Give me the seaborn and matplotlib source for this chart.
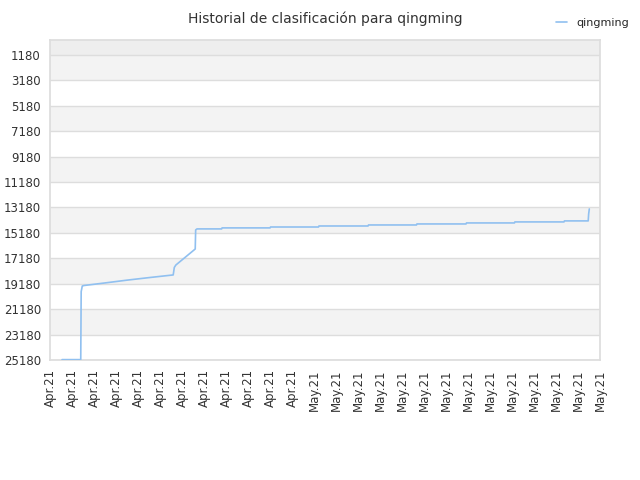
import matplotlib
matplotlib.use("Agg")
import matplotlib.pyplot as plt
import seaborn as sns
import pandas as pd

# x positions in tick units (0 = first tick), values = rank
xs = [0.55, 1.40, 1.42, 1.47, 1.55, 2.5, 3.5, 4.5, 5.6, 5.65, 5.72, 6.6, 6.62, 6.68,
      7.8, 7.82, 10.0, 10.02, 12.2, 12.22, 14.45, 14.47, 16.65, 16.67, 18.9, 18.92,
      21.1, 21.12, 23.35, 23.37, 24.45, 24.47, 24.5]
ys = [25150, 25150, 19800, 19360, 19320, 19120, 18900, 18700, 18490, 17900, 17710, 16450, 14950, 14870,
      14870, 14790, 14790, 14720, 14720, 14640, 14640, 14560, 14560, 14480, 14480, 14400,
      14400, 14320, 14320, 14240, 14240, 13700, 13300]
tick_labels = ["Apr.21"] * 12 + ["May.21"] * 14
yticks = [1180 + 2000 * i for i in range(13)]

sns.set_theme(style="white")
plt.rcParams['font.family'] = ['DejaVu Sans']
fig, ax = plt.subplots(figsize=(6.4, 4.8), dpi=100)
fig.subplots_adjust(left=0.078, right=0.938, top=0.917, bottom=0.25)

# bands
ax.axhspan(0, 1180, color="#eeeeee", zorder=0, lw=0)
for i, y0 in enumerate(yticks[:-1]):
    if i % 2 == 0:
        ax.axhspan(y0, y0 + 2000, color="#f3f3f3", zorder=0, lw=0)
for y in yticks:
    ax.axhline(y, color="#dddddd", lw=1, zorder=1)

df = pd.DataFrame({"x": xs, "y": ys})
sns.lineplot(data=df, x="x", y="y", ax=ax, color="#90c0f0", lw=1.2, label="qingming", sort=False, zorder=3)

ax.set_xlim(0, 25)
ax.set_ylim(25180, 0)
ax.set_yticks(yticks)
ax.set_yticklabels([str(v) for v in yticks], fontsize=8.5, color="#333333")
ax.set_xticks(range(26))
ax.set_xticklabels(tick_labels, rotation=90, fontsize=8.5, color="#333333")
ax.set_xlabel("")
ax.set_ylabel("")
ax.tick_params(axis="both", length=3, color="#cccccc")
for s in ax.spines.values():
    s.set_color("#dddddd")
ax.set_title("Historial de clasificación para qingming", fontsize=10, color="#333333", pad=12)
ax.legend(loc="upper right", bbox_to_anchor=(1.07, 1.1), frameon=False, fontsize=8, handlelength=1)
fig.savefig("out.png")
